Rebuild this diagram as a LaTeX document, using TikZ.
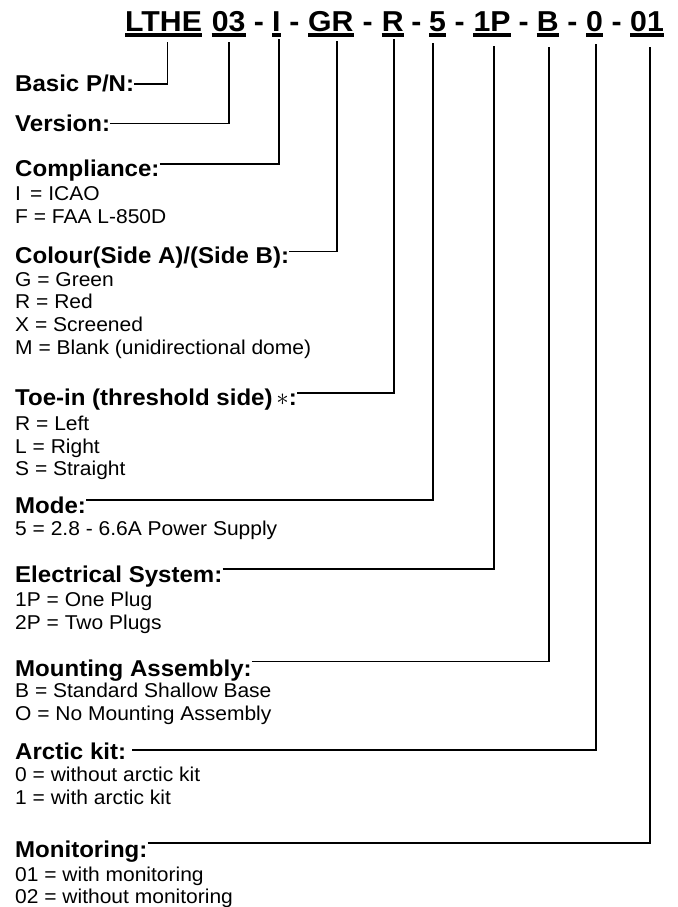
\documentclass[tikz,border=0pt]{standalone}
\usepackage{fontspec}
\setmainfont{Liberation Sans}[FakeStretch=1.05]
\usetikzlibrary{calc}
\tikzset{
 hdr/.style={inner sep=0pt, anchor=base west, font=\fontsize{28.8}{30}\selectfont\bfseries},
 dsh/.style={inner sep=0pt, anchor=base, font=\fontsize{28.8}{30}\selectfont\bfseries},
 ttl/.style={inner sep=0pt, anchor=base west, font=\fontsize{22.9}{26}\selectfont\bfseries},
 itm/.style={inner sep=0pt, anchor=base west, font=\fontsize{20}{24}\selectfont},
 conn/.style={line width=1.3pt, line join=miter},
 uline/.style={line width=4pt},
}
\begin{document}
\begin{tikzpicture}[x=1pt,y=-1pt]
\useasboundingbox (0,0) rectangle (677,907);
% header segments
\node[hdr] (h1) at (125,31.7) {LTHE};
\node[hdr] (h2) at (211.7,31.7) {03};
\node[hdr] (h3) at (272,31.7) {I};
\node[hdr] (h4) at (308,31.7) {GR};
\node[hdr] (h5) at (381.7,31.7) {R};
\node[hdr] (h6) at (429,31.7) {5};
\node[hdr] (h7) at (473.3,31.7) {1P};
\node[hdr] (h8) at (536.7,31.7) {B};
\node[hdr] (h9) at (586,31.7) {0};
\node[hdr] (h10) at (630,31.7) {01};
\foreach \i in {1,...,10}
  \draw[uline] ([yshift=-3.6pt]h\i.base west) -- ([yshift=-3.6pt]h\i.base east);
\foreach \a/\b [count=\k] in {2/3,3/4,4/5,5/6,6/7,7/8,8/9,9/10}
  \node[dsh] (d\k) at ($(h\a.base east)!0.5!(h\b.base west)$) {-};
% tops of the vertical leaders
\coordinate (t1) at (167.7,41.7);
\coordinate (t2) at (229,41.7);
\coordinate (t3) at (279,39.3);
\coordinate (t4) at (337,40.7);
\coordinate (t5) at (394,39.3);
\coordinate (t6) at (433,43.3);
\coordinate (t7) at (494,45.7);
\coordinate (t8) at (549,46.7);
\coordinate (t9) at (596,44.3);
\coordinate (t10) at (650,47.3);
% titles
\node[ttl] (basic) at (15,91.7) {Basic P/N:};
\node[ttl] (version) at (15,131.7) {Version:};
\node[ttl] (comp) at (15,176) {Compliance:};
\node[ttl] (colour) at (15,263.3) {Colour(Side A)/(Side B):};
\node[ttl] (toe) at (15,405) {Toe-in (threshold side)\,$\ast$:};
\node[ttl] (mode) at (15,513.3) {Mode:};
\node[ttl] (elec) at (15,582.7) {Electrical System:};
\node[ttl] (mount) at (15,676) {Mounting Assembly:};
\node[ttl] (arctic) at (15,759.3) {Arctic kit:};
\node[ttl] (monit) at (15,857.7) {Monitoring:};
% items
\node[itm] (i1) at (15,200.7) {I\, = ICAO};
\node[itm] (i2) at (15,223.3) {F = FAA L-850D};
\node[itm] (i3) at (15,286.7) {G = Green};
\node[itm] (i4) at (15,308.3) {R = Red};
\node[itm] (i5) at (15,331) {X = Screened};
\node[itm] (i6) at (15,354) {M = Blank (unidirectional dome)};
\node[itm] (i7) at (15,430.5) {R = Left};
\node[itm] (i8) at (15,453.3) {L = Right};
\node[itm] (i9) at (15,475) {S = Straight};
\node[itm] (i10) at (15,535) {5 = 2.8 - 6.6A Power Supply};
\node[itm] (i11) at (15,606.7) {1P = One Plug};
\node[itm] (i12) at (15,629.3) {2P = Two Plugs};
\node[itm] (i13) at (15,697.7) {B = Standard Shallow Base};
\node[itm] (i14) at (15,720) {O = No Mounting Assembly};
\node[itm] (i15) at (15,781.7) {0 = without arctic kit};
\node[itm] (i16) at (15,804) {1 = with arctic kit};
\node[itm] (i17) at (15,881.7) {01 = with monitoring};
\node[itm] (i18) at (15,903.3) {02 = without monitoring};
% leaders
\coordinate (ak) at ([xshift=6pt]arctic.east);
\draw[conn] (basic.east |- 0,84) -| (t1);
\draw[conn] (version.east |- 0,123.3) -| (t2);
\draw[conn] (comp.east |- 0,164) -| (t3);
\draw[conn] (colour.east |- 0,251.7) -| (t4);
\draw[conn] (toe.east |- 0,393) -| (t5);
\draw[conn] (mode.east |- 0,500) -| (t6);
\draw[conn] (elec.east |- 0,569) -| (t7);
\draw[conn] (mount.east |- 0,661.7) -| (t8);
\draw[conn] (ak |- 0,750) -| (t9);
\draw[conn] (monit.east |- 0,843) -| (t10);
\end{tikzpicture}
\end{document}
